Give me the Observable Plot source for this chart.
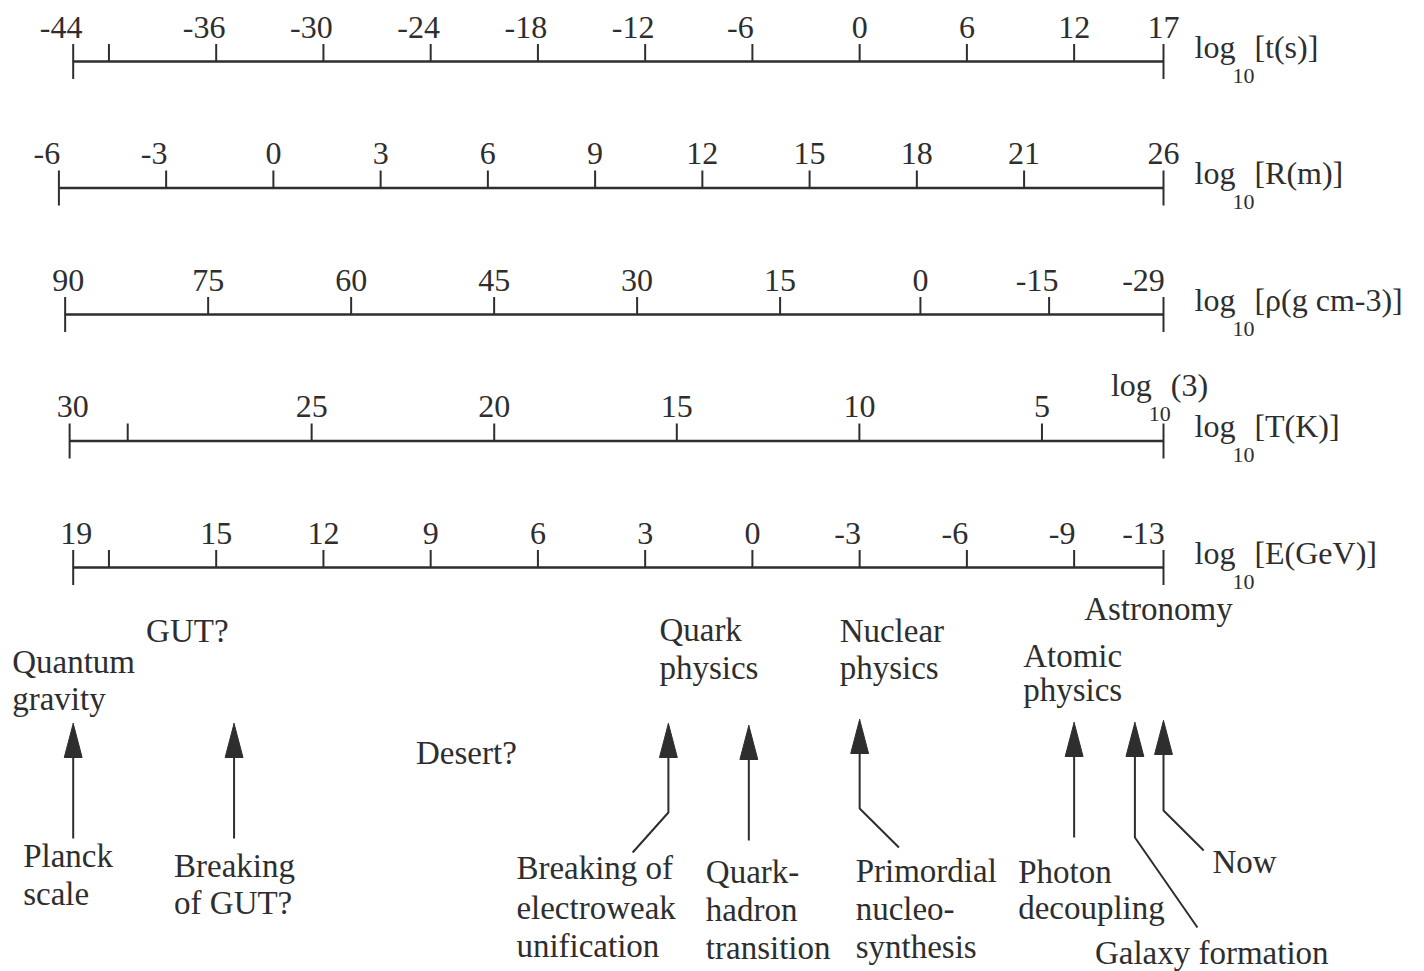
<!DOCTYPE html>
<html><head><meta charset="utf-8">
<script src="https://cdn.jsdelivr.net/npm/d3@7"></script>
<script src="https://cdn.jsdelivr.net/npm/@observablehq/plot@0.6"></script>
<style>html,body{margin:0;padding:0;background:#fff}</style>
</head><body><div id="chart"></div>
<script>
// ---------------- data ----------------
const axisTitles = ["log_10[t(s)]", "log_10[R(m)]", "log_10[ρ(g cm-3)]", "log_10[T(K)]", "log_10[E(GeV)]"];

const tTicks = [-44, -36, -30, -24, -18, -12, -6, 0, 6, 12, 17];
const tLabels = ["-44", "-36", "-30", "-24", "-18", "-12", "-6", "0", "6", "12", "17"];
const tMinor = [-42];

const RTicks = [-6, -3, 0, 3, 6, 9, 12, 15, 18, 21, 26];
const RLabels = ["-6", "-3", "0", "3", "6", "9", "12", "15", "18", "21", "26"];
const RMinor = [];

const rhoTicks = [90, 75, 60, 45, 30, 15, 0, -15, -29];
const rhoLabels = ["90", "75", "60", "45", "30", "15", "0", "-15", "-29"];
const rhoMinor = [];

const TTicks = [30, 25, 20, 15, 10, 5, Math.log10(3)];
const TLabels = ["30", "25", "20", "15", "10", "5", "log_10(3)"];
const TMinor = [28.8];

const ETicks = [19, 15, 12, 9, 6, 3, 0, -3, -6, -9, -13];
const ELabels = ["19", "15", "12", "9", "6", "3", "0", "-3", "-6", "-9", "-13"];
const EMinor = [18];

// correspondence of each axis value with log10 t(s)
const tAnchors = [[-44, -44], [17, 17]];
const RAnchors = [[-6, -44.8], [21, 9.2], [26, 17]];
const rhoAnchors = [[90, -44.45], [15, -4.45], [0, 3.4], [-15, 10.6], [-29, 17]];
const TAnchors = [[30, -44.2], [25, -30.66], [5, 10.2], [Math.log10(3), 17]];
const EAnchors = [[19, -44], [-9, 12], [-13, 17]];

// events (arrows) at log10 t(s)
const eventLines = [["Planck", "scale"], ["Breaking", "of GUT?"], ["Breaking of", "electroweak", "unification"],
  ["Quark-", "hadron", "transition"], ["Primordial", "nucleo-", "synthesis"], ["Photon", "decoupling"],
  ["Galaxy formation"], ["Now"]];
const eventLogT = [-44, -35, -10.7, -6.2, 0, 12, 15.4, 17];

// physics regimes at log10 t(s)
const regimeLines = [["Quantum", "gravity"], ["GUT?"], ["Desert?"], ["Quark", "physics"], ["Nuclear", "physics"],
  ["Atomic", "physics"], ["Astronomy"]];
const regimeLogT = [-44, -35, -22, -10.7, 0, 12, 17];

// ---------------- layout ----------------
const X0 = 72.7, X1 = 1163;
const pxPerUnit = (X1 - X0) / (17 - (-44));
const rowY = i => 61 + i * 126.5;
const tickLen = 17, endTickBelow = 18, labelGap = 24;
const eventLayout = [
  {dx: -50, y: [866, 904]},
  {dx: -60, y: [876, 913]},
  {dx: -152, y: [878, 918, 956]},
  {dx: -43, y: [882, 920, 958]},
  {dx: -4, y: [881, 919, 957]},
  {dx: -56, y: [882, 918]},
  {dx: -40, y: [963]},
  {dx: 49, y: [872]}
];
const regimeLayout = [
  {dx: -61, y: [672, 709], anchor: "start"},
  {dx: -88, y: [641], anchor: "start"},
  {dx: 0, y: [763], anchor: "middle"},
  {dx: -9, y: [640, 678], anchor: "start"},
  {dx: -20, y: [641, 678], anchor: "start"},
  {dx: -51, y: [666, 700], anchor: "start"},
  {dx: -5, y: [619], anchor: "middle"}
];
const arrowLayout = [
  {tip: 723, bend: 838, tailDx: 0, tail: 838},
  {tip: 723, bend: 838, tailDx: 0, tail: 838},
  {tip: 723, bend: 812, tailDx: -2.0, tail: 852},
  {tip: 725, bend: 840, tailDx: 0, tail: 840},
  {tip: 719, bend: 808, tailDx: 2.2, tail: 847},
  {tip: 722, bend: 837, tailDx: 0, tail: 837},
  {tip: 722, bend: 837, tailDx: 3.5, tail: 927},
  {tip: 720, bend: 810, tailDx: 2.25, tail: 850}
];
const headLen = 34, headHalf = 0.5;
const shift = (x, dxPx) => x + dxPx / pxPerUnit;

// ---------------- build ----------------
const axes = [
  {ticks: tTicks, labels: tLabels, minor: tMinor, anchors: tAnchors},
  {ticks: RTicks, labels: RLabels, minor: RMinor, anchors: RAnchors},
  {ticks: rhoTicks, labels: rhoLabels, minor: rhoMinor, anchors: rhoAnchors},
  {ticks: TTicks, labels: TLabels, minor: TMinor, anchors: TAnchors},
  {ticks: ETicks, labels: ELabels, minor: EMinor, anchors: EAnchors}
];
const axisLines = [], ticks = [], endTicks = [], tickLabels = [], titles = [];
axes.forEach((a, i) => {
  const f = d3.scaleLinear(a.anchors.map(d => d[0]), a.anchors.map(d => d[1]));
  const y = rowY(i);
  const n = a.ticks.length;
  axisLines.push({x1: f(a.ticks[0]), x2: f(a.ticks[n - 1]), y});
  a.ticks.forEach((v, j) => {
    const d = {x: f(v), y};
    if (j === 0 || j === n - 1) endTicks.push(d); else ticks.push(d);
    const lab = a.labels[j];
    const sub = lab.includes("_10");
    const neg = lab.startsWith("-");
    const dx = sub ? -4 : neg ? (j === n - 1 ? -20 : -12) : (j === 0 ? 3 : 0);
    tickLabels.push({x: shift(f(v), dx), y: y - labelGap - (sub ? 21 : 0), text: lab});
  });
  a.minor.forEach(v => ticks.push({x: f(v), y}));
  titles.push({x: f(a.ticks[n - 1]), y: y - 4, text: axisTitles[i]});
});

const annot = [];
eventLines.forEach((lines, i) => lines.forEach((t, k) =>
  annot.push({x: shift(eventLogT[i], eventLayout[i].dx), y: eventLayout[i].y[k], text: t, anchor: "start"})));
regimeLines.forEach((lines, i) => lines.forEach((t, k) =>
  annot.push({x: shift(regimeLogT[i], regimeLayout[i].dx), y: regimeLayout[i].y[k], text: t, anchor: regimeLayout[i].anchor})));

const shafts = [], heads = [];
eventLogT.forEach((x, i) => {
  const L = arrowLayout[i];
  if (L.tailDx !== 0 || L.tail !== L.bend) shafts.push({id: i, x: x + L.tailDx, y: L.tail});
  shafts.push({id: i, x, y: L.bend});
  shafts.push({id: i, x, y: L.tip + headLen - 4});
  heads.push({id: i, x, y: L.tip});
  heads.push({id: i, x: x - headHalf, y: L.tip + headLen});
  heads.push({id: i, x: x + headHalf, y: L.tip + headLen});
  heads.push({id: i, x, y: L.tip});
});

const ink = "#2e2e2e";
const font = "Liberation Serif, Times New Roman, serif";

const svg = Plot.plot({
  width: 1424, height: 971, margin: 0,
  x: {domain: [-44, 17], range: [X0, X1], axis: null},
  y: {domain: [0, 971], range: [0, 971], axis: null},
  style: {background: "#fff", color: ink},
  marks: [
    Plot.ruleY(axisLines, {y: "y", x1: "x1", x2: "x2", stroke: ink, strokeWidth: 2.5}),
    Plot.ruleX(ticks, {x: "x", y1: d => d.y - tickLen, y2: "y", stroke: ink, strokeWidth: 2}),
    Plot.ruleX(endTicks, {x: "x", y1: d => d.y - tickLen, y2: d => d.y + endTickBelow, stroke: ink, strokeWidth: 2}),
    Plot.text(tickLabels, {x: "x", y: "y", text: "text", textAnchor: "middle", lineAnchor: "bottom",
      fontSize: 32, fontFamily: font, fill: ink}),
    Plot.text(titles, {x: "x", y: "y", text: "text", dx: 31, textAnchor: "start", lineAnchor: "bottom",
      fontSize: 32, fontFamily: font, fill: ink}),
    Plot.text(annot.filter(d => d.anchor === "start"), {x: "x", y: "y", text: "text", textAnchor: "start",
      lineAnchor: "bottom", fontSize: 33, fontFamily: font, fill: ink}),
    Plot.text(annot.filter(d => d.anchor === "middle"), {x: "x", y: "y", text: "text", textAnchor: "middle",
      lineAnchor: "bottom", fontSize: 33, fontFamily: font, fill: ink}),
    Plot.line(shafts, {x: "x", y: "y", z: "id", stroke: ink, strokeWidth: 2, strokeLinecap: "butt", strokeLinejoin: "miter"}),
    Plot.line(heads, {x: "x", y: "y", z: "id", fill: ink, stroke: ink, strokeWidth: 1})
  ]
});

// subscripts "10" in log_10 labels
d3.select(svg).selectAll("text").each(function () {
  const s = this.textContent;
  const i = s.indexOf("_10");
  if (i < 0) return;
  const sel = d3.select(this);
  this.textContent = "";
  sel.append("tspan").text(s.slice(0, i));
  sel.append("tspan").attr("font-size", 22).attr("dx", -3).attr("dy", 25).text("10");
  sel.append("tspan").attr("dy", -25).text(s.slice(i + 3));
});

document.getElementById("chart").appendChild(svg);
</script>
</body></html>
